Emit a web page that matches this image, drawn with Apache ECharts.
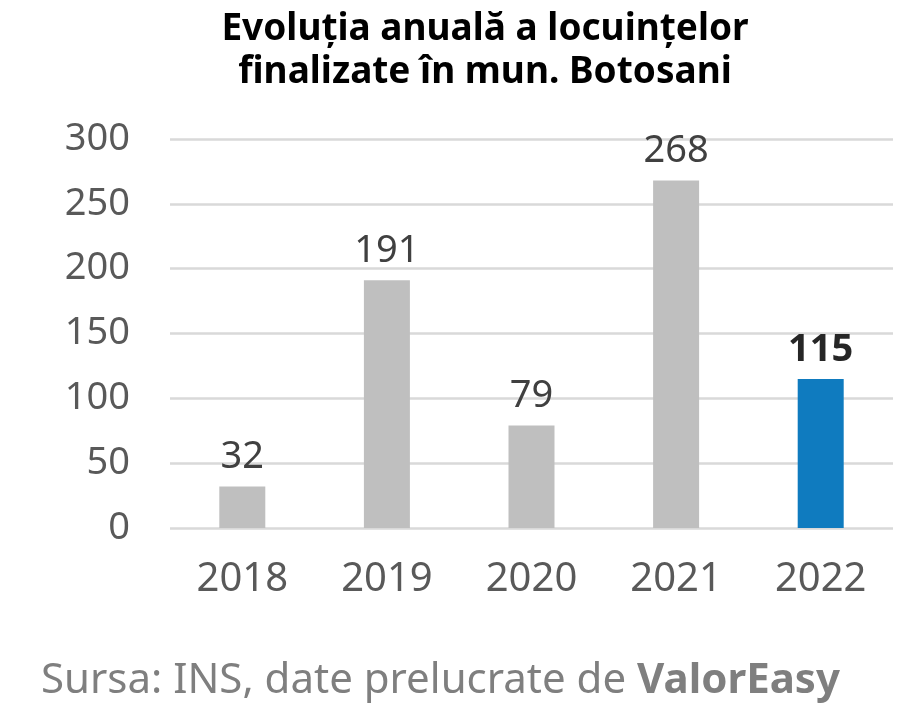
<!DOCTYPE html>
<html>
<head>
<meta charset="utf-8">
<script src="https://cdn.jsdelivr.net/npm/echarts@6/dist/echarts.min.js"></script>
<style>
  html, body { margin: 0; padding: 0; background: #fff; }
  #chart { width: 919px; height: 722px; }
</style>
</head>
<body>
<div id="chart"></div>
<script>
const ani = ["2018", "2019", "2020", "2021", "2022"];
const locuinte = [32, 191, 79, 268, 115];
const evidentiat = "2022";

const chart = echarts.init(document.querySelector("#chart"));
const font = "'Noto Sans', 'Open Sans', sans-serif";

const bare = locuinte.map((v, i) => {
  const e = ani[i] === evidentiat;
  return {
    value: v,
    itemStyle: { color: e ? "#0F7BBF" : "#BFBFBF" },
    label: { fontWeight: e ? "bold" : "normal", color: e ? "#262626" : "#404040" }
  };
});

chart.setOption({
  backgroundColor: "#fff",
  animation: false,
  graphic: [{
    type: "text",
    x: 485,
    y: 8,
    style: {
      text: "Evoluția anuală a locuințelor\nfinalizate în mun. Botosani",
      align: "center",
      fontFamily: font,
      fontSize: 37,
      fontWeight: "bold",
      fill: "#000",
      lineHeight: 43
    }
  }],
  title: {
    text: "{a|Sursa: INS, date prelucrate de }{b|ValorEasy}",
    left: 36,
    top: 655,
    textStyle: {
      rich: {
        a: { fontFamily: font, fontSize: 42, color: "#7F7F7F", fontWeight: "normal" },
        b: { fontFamily: font, fontSize: 42, color: "#7F7F7F", fontWeight: "bold" }
      }
    }
  },
  grid: { left: 170, right: 26, top: 139, bottom: 194, containLabel: false },
  xAxis: {
    type: "category",
    data: ani,
    axisLine: { show: false },
    axisTick: { show: false },
    axisLabel: { fontFamily: font, fontSize: 40, color: "#595959", margin: 32 }
  },
  yAxis: {
    type: "value",
    min: 0,
    max: 300,
    interval: 50,
    axisLine: { show: false },
    axisTick: { show: false },
    axisLabel: { fontFamily: font, fontSize: 38, color: "#595959", margin: 40 },
    splitLine: { lineStyle: { color: "#D9D9D9", width: 2.5 } }
  },
  series: [{
    type: "bar",
    data: bare,
    barWidth: 46,
    label: {
      show: true,
      position: "top",
      distance: 10,
      fontFamily: font,
      fontSize: 38
    }
  }]
});
</script>
</body>
</html>
